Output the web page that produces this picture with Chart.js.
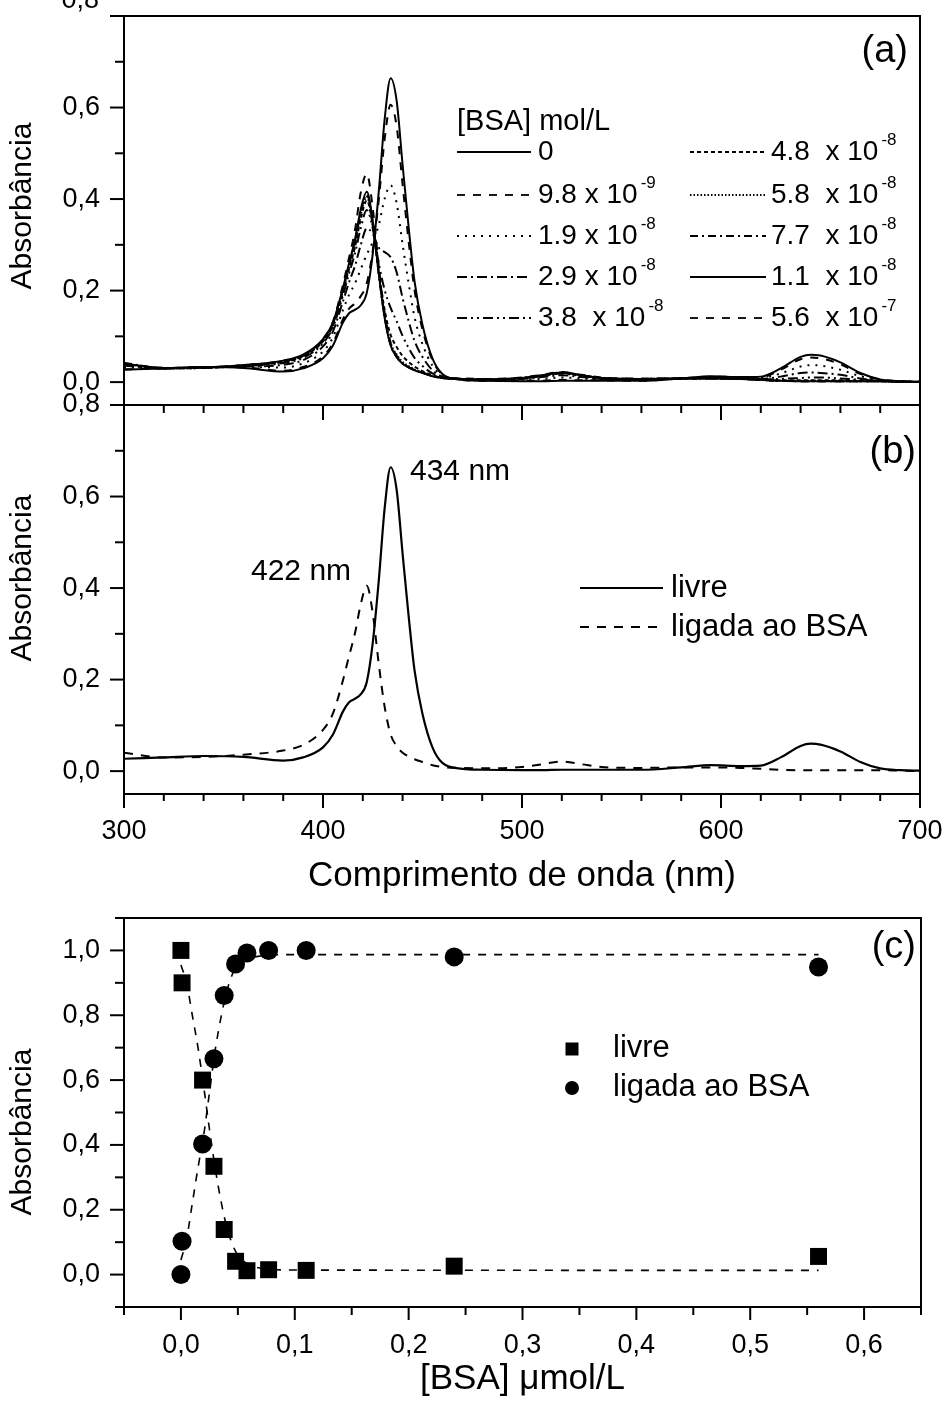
<!DOCTYPE html>
<html>
<head>
<meta charset="utf-8">
<script src="https://cdn.jsdelivr.net/npm/chart.js@4.4.1/dist/chart.umd.min.js"></script>
<style>
  html, body { margin: 0; padding: 0; background: #fff; }
  body { width: 947px; height: 1401px; position: relative; overflow: hidden; }
  canvas { position: absolute; left: 0; }
</style>
</head>
<body>
<canvas id="ca" width="947" height="432" style="top:-2px"></canvas>
<canvas id="cb" width="947" height="515" style="top:385px"></canvas>
<canvas id="cc" width="947" height="506" style="top:895px"></canvas>
<script>
/* ---- data ---- */
// wavelength grid (nm) shared by all spectra
const wavelengths = [300, 320, 340, 360, 380, 390, 400, 405, 410, 413, 416, 419, 422, 425, 428, 431, 434, 437, 440, 443, 446, 450, 455, 460, 470, 480, 500, 510, 520, 530, 540, 560, 580, 595, 610, 620, 630, 640, 645, 650, 660, 670, 680, 690, 700];

// panel (a): absorbance for each [BSA]
const abs0     = [.027,.030,.033,.031,.023,.030,.052,.080,.130,.150,.158,.168,.195,.280,.415,.575,.664,.615,.475,.340,.220,.125,.052,.018,.005,.003,.002,.002,.003,.003,.003,.003,.008,.013,.011,.012,.030,.055,.060,.058,.043,.020,.006,.002,.001];
const abs98e9  = [.028,.030,.033,.032,.025,.033,.056,.085,.137,.160,.172,.188,.216,.287,.397,.532,.606,.559,.432,.309,.201,.115,.048,.017,.005,.003,.003,.003,.005,.004,.004,.003,.008,.012,.011,.011,.027,.050,.054,.052,.039,.018,.006,.002,.001];
const abs19e8  = [.032,.030,.032,.033,.032,.041,.067,.098,.157,.190,.215,.247,.279,.306,.343,.401,.430,.391,.301,.217,.142,.083,.036,.014,.006,.004,.005,.007,.010,.008,.005,.005,.008,.011,.009,.009,.019,.034,.037,.036,.027,.013,.004,.002,.001];
const abs29e8  = [.036,.030,.032,.034,.038,.048,.078,.111,.176,.217,.253,.300,.336,.324,.294,.284,.273,.240,.184,.134,.090,.055,.026,.012,.006,.005,.007,.011,.015,.011,.007,.006,.008,.010,.008,.007,.012,.020,.021,.020,.016,.008,.003,.001,.000];
const abs38e8  = [.038,.030,.031,.035,.042,.053,.085,.120,.189,.236,.280,.337,.376,.336,.260,.201,.162,.133,.101,.075,.053,.035,.019,.010,.007,.006,.008,.013,.019,.013,.008,.006,.008,.009,.008,.006,.007,.009,.010,.010,.008,.005,.003,.001,.000];
const abs48e8  = [.040,.030,.031,.036,.044,.056,.089,.124,.195,.246,.294,.357,.397,.342,.242,.157,.103,.077,.057,.044,.034,.024,.015,.009,.007,.006,.009,.014,.020,.015,.009,.007,.008,.008,.007,.005,.004,.004,.004,.004,.004,.003,.002,.001,.000];
const abs58e8  = [.040,.030,.031,.036,.045,.057,.090,.126,.198,.250,.300,.365,.405,.345,.237,.144,.086,.060,.044,.035,.028,.021,.013,.009,.007,.006,.009,.015,.021,.015,.009,.007,.008,.008,.007,.005,.003,.003,.003,.003,.002,.002,.002,.001,.000];
const abs77e8  = [.042,.031,.032,.037,.046,.058,.092,.128,.202,.255,.306,.372,.410,.350,.238,.142,.081,.055,.040,.032,.026,.020,.013,.009,.007,.006,.009,.015,.021,.015,.009,.007,.008,.008,.007,.005,.003,.002,.002,.002,.002,.002,.002,.001,.000];
const abs11e7  = [.040,.031,.032,.037,.047,.060,.094,.130,.205,.258,.310,.378,.416,.352,.238,.140,.080,.055,.040,.032,.026,.020,.013,.009,.007,.006,.009,.015,.021,.015,.009,.007,.008,.008,.007,.005,.003,.002,.002,.002,.002,.002,.002,.001,.000];
const abs56e7  = [.041,.031,.032,.037,.046,.058,.094,.132,.212,.270,.330,.415,.455,.380,.255,.150,.085,.058,.042,.033,.027,.021,.014,.010,.008,.007,.010,.016,.022,.016,.010,.008,.008,.008,.007,.005,.003,.002,.002,.002,.002,.002,.002,.001,.000];

const bsaLabels    = ['0', '9.8 x 10', '1.9 x 10', '2.9 x 10', '3.8  x 10', '4.8  x 10', '5.8  x 10', '7.7  x 10', '1.1  x 10', '5.6  x 10'];
const bsaExponents = ['', '-9', '-8', '-8', '-8', '-8', '-8', '-8', '-8', '-7'];

// panel (b): free and BSA-bound spectra
const specLivre  = abs0;
const specLigada = [.040,.030,.031,.036,.045,.057,.090,.126,.198,.250,.300,.365,.405,.345,.235,.140,.080,.055,.040,.032,.026,.020,.013,.009,.007,.006,.009,.015,.021,.015,.009,.007,.008,.008,.007,.005,.003,.002,.002,.002,.002,.002,.002,.001,.000];

// panel (c): normalised absorbance vs [BSA] (umol/L)
const bsaConc    = [0, 0.001, 0.019, 0.029, 0.038, 0.048, 0.058, 0.077, 0.11, 0.24, 0.56];
const fracLivre  = [1.0, 0.90, 0.60, 0.334, 0.139, 0.041, 0.012, 0.015, 0.013, 0.026, 0.056];
const fracLigada = [0.0, 0.103, 0.403, 0.666, 0.861, 0.958, 0.992, 1.0, 1.0, 0.98, 0.949];
const fitConc    = [0, 0.005, 0.01, 0.015, 0.02, 0.025, 0.03, 0.035, 0.04, 0.045, 0.05, 0.06, 0.07, 0.08, 0.1, 0.56];
const fitLivre   = [0.955, 0.90, 0.80, 0.70, 0.58, 0.45, 0.33, 0.23, 0.15, 0.095, 0.06, 0.03, 0.02, 0.016, 0.014, 0.013];
const fitLigada  = [0.045, 0.11, 0.22, 0.33, 0.43, 0.56, 0.69, 0.79, 0.87, 0.925, 0.955, 0.975, 0.983, 0.986, 0.987, 0.987];

/* ---- helpers ---- */
const FONT = 'Liberation Sans, Arial, Helvetica, sans-serif';
Chart.defaults.font.family = FONT;
Chart.defaults.color = '#000';

const pts = (xs, ys) => xs.map((x, i) => ({ x: x, y: ys[i] }));
const comma = (v, d) => (Math.abs(v) < 1e-9 ? 0 : v).toFixed(d).replace('.', ',');
const evenTenth = v => Math.abs(Math.round(v * 10)) % 2 === 0;
// invisible tick marks (grid hidden) only used to push labels away from the axis
const gridGap = len => ({ display: false, drawTicks: true, tickLength: len });

// frame, minor/major ticks, free texts
const decor = {
  id: 'decor',
  afterDraw(chart, args, o) {
    const ctx = chart.ctx, a = chart.chartArea, top = o.top || 0;
    ctx.save();
    ctx.strokeStyle = '#000';
    ctx.lineWidth = 2;
    ctx.strokeRect(a.left, a.top, a.right - a.left, a.bottom - a.top);
    (o.ticks || []).forEach(t => {
      const s = chart.scales[t.id];
      s.ticks.forEach(tk => {
        const p = s.getPixelForValue(tk.value);
        const len = t.major(tk.value) ? t.len[0] : t.len[1];
        ctx.beginPath();
        if (s.isHorizontal()) { ctx.moveTo(p, a.bottom); ctx.lineTo(p, a.bottom + len); }
        else { ctx.moveTo(a.left, p); ctx.lineTo(a.left - len, p); }
        ctx.stroke();
      });
    });
    ctx.fillStyle = '#000';
    ctx.textBaseline = 'middle';
    (o.texts || []).forEach(t => {
      ctx.save();
      ctx.font = (t.size || 28) + 'px ' + FONT;
      ctx.textAlign = t.align || 'left';
      ctx.translate(t.x, t.y - top);
      if (t.rot) ctx.rotate(t.rot);
      ctx.fillText(t.text, 0, 0);
      ctx.restore();
    });
    if (o.legend) o.legend(chart, ctx, top);
    ctx.restore();
  }
};

/* ---- panel (a) ---- */
const seriesA = [abs0, abs98e9, abs19e8, abs29e8, abs38e8, abs48e8, abs58e8, abs77e8, abs11e7, abs56e7];
const dashA = [[], [8, 8], [2, 6], [10, 4, 2, 4], [10, 4, 2, 4, 2, 4], [4, 3], [1.5, 2], [8, 4, 2, 4], [], [8, 8]];

function legendA(chart, ctx, top) {
  ctx.font = '29px ' + FONT;
  ctx.textAlign = 'left';
  ctx.fillText('[BSA] mol/L', 457, 122 - top);
  const rows = [152, 195, 236, 277, 318];
  chart.data.datasets.forEach((ds, i) => {
    const col = i < 5 ? 0 : 1;
    const y = rows[i % 5] - top;
    const x0 = col ? 690 : 457, x1 = col ? 766 : 531, tx = col ? 771 : 538;
    ctx.save();
    ctx.lineWidth = 1.8;
    ctx.setLineDash(ds.borderDash);
    ctx.beginPath(); ctx.moveTo(x0, y); ctx.lineTo(x1, y); ctx.stroke();
    ctx.restore();
    ctx.font = '28px ' + FONT;
    ctx.fillText(bsaLabels[i], tx, y);
    if (bsaExponents[i]) {
      const w = ctx.measureText(bsaLabels[i]).width;
      ctx.font = '17px ' + FONT;
      ctx.fillText(bsaExponents[i], tx + w + 3, y - 12);
    }
  });
}

new Chart(document.getElementById('ca'), {
  type: 'line',
  data: {
    datasets: seriesA.map((ys, i) => ({
      data: pts(wavelengths, ys),
      borderColor: '#000', borderWidth: 2, borderDash: dashA[i],
      pointRadius: 0, cubicInterpolationMode: 'monotone', fill: false
    }))
  },
  options: {
    responsive: false, animation: false, events: [],
    layout: { padding: { top: 18, right: 27, left: 0, bottom: 0 } },
    plugins: {
      legend: { display: false }, tooltip: { enabled: false },
      decor: {
        top: -2,
        ticks: [
          { id: 'x', major: v => v % 100 === 0, len: [15, 8] },
          { id: 'y', major: evenTenth, len: [14, 9] }
        ],
        texts: [
          { text: 'Absorbância', x: 23, y: 206, size: 30, align: 'center', rot: -Math.PI / 2 },
          { text: '0,8', x: 99, y: 1, size: 27, align: 'right' },
          { text: '(a)', x: 908, y: 52, size: 38, align: 'right' }
        ],
        legend: legendA
      }
    },
    scales: {
      x: {
        type: 'linear', min: 300, max: 700,
        afterFit: s => { s.height = 25; },
        grid: { display: false, drawTicks: false }, border: { display: false },
        ticks: { display: false, stepSize: 20 }
      },
      y: {
        min: -0.05, max: 0.8,
        afterFit: s => { s.width = 124; },
        grid: gridGap(24), border: { display: false },
        ticks: {
          stepSize: 0.1, includeBounds: false, autoSkip: false, padding: 0, font: { size: 27 },
          callback: v => (evenTenth(v) && v < 0.75) ? comma(v, 1) : ''
        }
      }
    }
  },
  plugins: [decor]
});

/* ---- panel (b) ---- */
function legendB(chart, ctx, top) {
  const items = [['livre', 588], ['ligada ao BSA', 627]];
  chart.data.datasets.forEach((ds, i) => {
    const y = items[i][1] - top;
    ctx.save();
    ctx.lineWidth = 2;
    ctx.setLineDash(ds.borderDash);
    ctx.beginPath(); ctx.moveTo(580, y); ctx.lineTo(663, y); ctx.stroke();
    ctx.restore();
    ctx.font = '31px ' + FONT;
    ctx.textAlign = 'left';
    ctx.fillText(items[i][0], 671, y);
  });
}

new Chart(document.getElementById('cb'), {
  type: 'line',
  data: {
    datasets: [
      { data: pts(wavelengths, specLivre), borderColor: '#000', borderWidth: 2.2, borderDash: [], pointRadius: 0, cubicInterpolationMode: 'monotone', fill: false },
      { data: pts(wavelengths, specLigada), borderColor: '#000', borderWidth: 2, borderDash: [9, 8], pointRadius: 0, cubicInterpolationMode: 'monotone', fill: false }
    ]
  },
  options: {
    responsive: false, animation: false, events: [],
    layout: { padding: { top: 20, right: 27, left: 0, bottom: 0 } },
    plugins: {
      legend: { display: false }, tooltip: { enabled: false },
      decor: {
        top: 385,
        ticks: [
          { id: 'x', major: v => v % 100 === 0, len: [14, 7] },
          { id: 'y', major: evenTenth, len: [14, 9] }
        ],
        texts: [
          { text: 'Absorbância', x: 23, y: 578, size: 30, align: 'center', rot: -Math.PI / 2 },
          { text: '434 nm', x: 410, y: 472, size: 30 },
          { text: '422 nm', x: 251, y: 572, size: 30 },
          { text: '(b)', x: 916, y: 453, size: 38, align: 'right' }
        ],
        legend: legendB
      }
    },
    scales: {
      x: {
        type: 'linear', min: 300, max: 700,
        afterFit: s => { s.height = 106; },
        grid: gridGap(20), border: { display: false },
        ticks: {
          stepSize: 20, autoSkip: false, maxRotation: 0, padding: 1, font: { size: 27 },
          callback: v => v % 100 === 0 ? String(v) : ''
        },
        title: { display: true, text: 'Comprimento de onda (nm)', font: { size: 35 }, padding: { top: 0, bottom: 3 } }
      },
      y: {
        min: -0.05, max: 0.8,
        afterFit: s => { s.width = 124; },
        grid: gridGap(24), border: { display: false },
        ticks: {
          stepSize: 0.1, includeBounds: false, autoSkip: false, padding: 0, font: { size: 27 },
          callback: v => evenTenth(v) ? comma(v, 1) : ''
        }
      }
    }
  },
  plugins: [decor]
});

/* ---- panel (c) ---- */
function legendC(chart, ctx, top) {
  ctx.fillRect(565.5, 1049 - top - 6.5, 13, 13);
  ctx.beginPath(); ctx.arc(572, 1088 - top, 7, 0, Math.PI * 2); ctx.fill();
  ctx.font = '31px ' + FONT;
  ctx.textAlign = 'left';
  ctx.fillText('livre', 613, 1048 - top);
  ctx.fillText('ligada ao BSA', 613, 1087 - top);
}

new Chart(document.getElementById('cc'), {
  type: 'line',
  data: {
    datasets: [
      { data: pts(bsaConc, fracLivre), showLine: false, pointStyle: 'rect', pointRadius: 12, pointBackgroundColor: '#000', pointBorderWidth: 0 },
      { data: pts(bsaConc, fracLigada), showLine: false, pointStyle: 'circle', pointRadius: 9.5, pointBackgroundColor: '#000', pointBorderWidth: 0 },
      { data: pts(fitConc, fitLivre), borderColor: '#000', borderWidth: 1.6, borderDash: [8, 8], pointRadius: 0, cubicInterpolationMode: 'monotone', fill: false },
      { data: pts(fitConc, fitLigada), borderColor: '#000', borderWidth: 1.6, borderDash: [8, 8], pointRadius: 0, cubicInterpolationMode: 'monotone', fill: false }
    ]
  },
  options: {
    responsive: false, animation: false, events: [],
    layout: { padding: { top: 23, right: 26, left: 0, bottom: 0 } },
    plugins: {
      legend: { display: false }, tooltip: { enabled: false },
      decor: {
        top: 895,
        ticks: [
          { id: 'x', major: v => Math.abs(Math.round(v * 100)) % 10 === 0, len: [13, 8] },
          { id: 'y', major: evenTenth, len: [14, 9] }
        ],
        texts: [
          { text: 'Absorbância', x: 23, y: 1132, size: 30, align: 'center', rot: -Math.PI / 2 },
          { text: '(c)', x: 916, y: 948, size: 38, align: 'right' }
        ],
        legend: legendC
      }
    },
    scales: {
      x: {
        type: 'linear', min: -0.05, max: 0.65,
        afterFit: s => { s.height = 94; },
        grid: gridGap(21), border: { display: false },
        ticks: {
          stepSize: 0.05, includeBounds: false, autoSkip: false, maxRotation: 0, padding: 1, font: { size: 27 },
          callback: v => Math.abs(Math.round(v * 100)) % 10 === 0 ? comma(v, 1) : ''
        },
        title: { display: true, text: '[BSA] μmol/L', font: { size: 35 }, padding: { top: 0, bottom: 1 } }
      },
      y: {
        min: -0.1, max: 1.1,
        afterFit: s => { s.width = 124; },
        grid: gridGap(24), border: { display: false },
        ticks: {
          stepSize: 0.1, includeBounds: false, autoSkip: false, padding: 0, font: { size: 27 },
          callback: v => (evenTenth(v) && v > -0.05 && v < 1.05) ? comma(v, 1) : ''
        }
      }
    }
  },
  plugins: [decor]
});
</script>
</body>
</html>
